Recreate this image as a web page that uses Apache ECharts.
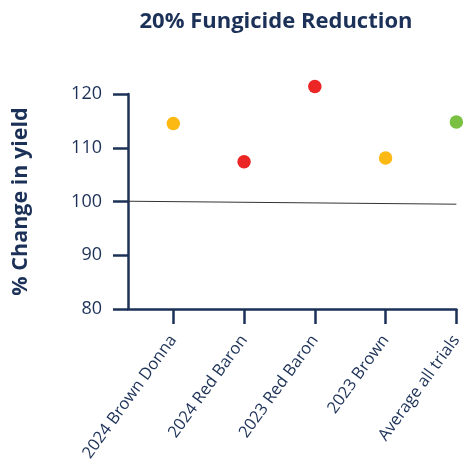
<!DOCTYPE html>
<html><head><meta charset="utf-8">
<script src="https://cdn.jsdelivr.net/npm/echarts@6/dist/echarts.min.js"></script>
<style>html,body{margin:0;padding:0;background:#fff}#c{width:465px;height:468px}</style>
</head><body><div id="c"></div>
<script>
const categories = ['2024 Brown Donna', '2024 Red Baron', '2023 Red Baron', '2023 Brown', 'Average all trials'];
const yieldValues = [114.5, 107.4, 121.4, 108.1, 114.8];
const pointColors = ['#FDB913', '#EC2624', '#EC2624', '#FDB913', '#7AC143'];
const yTicks = [80, 90, 100, 110, 120];
const baseline = [100.05, 99.5];

const navy = '#1c3157';
const font = 'Open Sans';
const xMin = -0.64, xMax = categories.length - 1;
const chart = echarts.init(document.getElementById('c'), null, {renderer: 'canvas'});
chart.setOption({
  animation: false,
  title: {
    text: '20% Fungicide Reduction', left: 271, top: 6, textAlign: 'center',
    textStyle: {fontFamily: font, fontWeight: 'bold', fontSize: 22, color: navy}
  },
  grid: {left: 128, right: 8, top: 94, bottom: 159},
  xAxis: {
    type: 'value', min: xMin, max: xMax,
    splitLine: {show: false},
    axisLine: {lineStyle: {color: navy, width: 2.5}},
    axisTick: {show: true, length: 15, lineStyle: {color: navy, width: 2.5}, customValues: categories.map((c, i) => i)},
    axisLabel: {
      customValues: categories.map((c, i) => i),
      formatter: v => categories[Math.round(v)] || '',
      rotate: 54, margin: 28, fontFamily: font, fontSize: 16.5, color: navy
    }
  },
  yAxis: {
    type: 'value', min: yTicks[0], max: yTicks[yTicks.length - 1], interval: 10,
    name: '% Change in yield', nameLocation: 'middle', nameGap: 96, nameRotate: 90,
    nameTextStyle: {fontFamily: font, fontWeight: 'bold', fontSize: 21.5, color: navy},
    splitLine: {show: false},
    axisLine: {show: true, onZero: false, lineStyle: {color: navy, width: 2.5}},
    axisTick: {show: true, length: 15, lineStyle: {color: navy, width: 2.5}},
    axisLabel: {margin: 26, fontFamily: font, fontSize: 18, color: navy}
  },
  series: [
    {
      type: 'line', data: [[xMin, baseline[0]], [xMax, baseline[1]]],
      symbol: 'none', lineStyle: {color: '#333', width: 1}, silent: true, z: 1
    },
    {
      type: 'scatter', clip: false, symbolSize: 13.5, z: 3,
      data: yieldValues.map((v, i) => ({value: [i, v], itemStyle: {color: pointColors[i], opacity: 1}}))
    }
  ]
});
</script></body></html>
